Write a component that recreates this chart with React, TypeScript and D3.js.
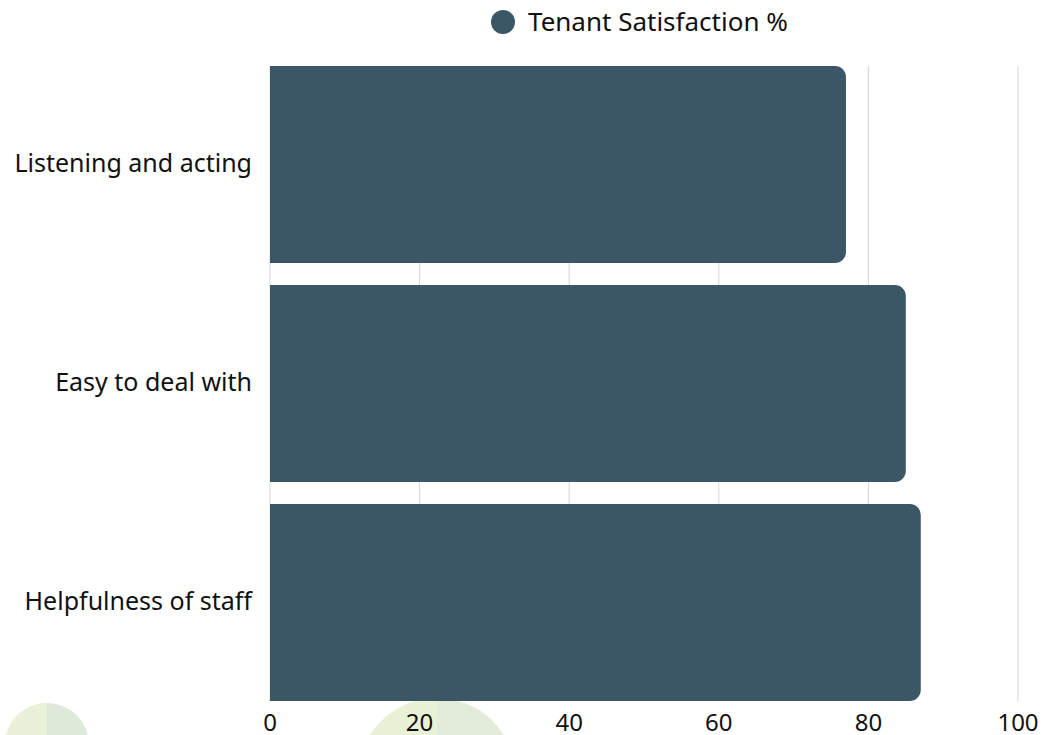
import React from "react";
import * as d3 from "d3";

const categories = ["Listening and acting", "Easy to deal with", "Helpfulness of staff"];
const satisfaction = [77, 85, 87];
const xTicks = [0, 20, 40, 60, 80, 100];
const seriesName = "Tenant Satisfaction %";

const W = 1046;
const H = 735;
const FONT = "'Noto Sans', sans-serif";
const BAR = "#3b5664";

function barPath(x0: number, x1: number, y0: number, h: number, r: number) {
  const rr = Math.min(r, (x1 - x0), h / 2);
  return `M${x0},${y0}H${x1 - rr}A${rr},${rr} 0 0 1 ${x1},${y0 + rr}V${y0 + h - rr}A${rr},${rr} 0 0 1 ${x1 - rr},${y0 + h}H${x0}Z`;
}

export default function App() {
  const x = d3.scaleLinear().domain([0, 100]).range([270, 1018]);
  const y = d3.scaleBand<string>().domain(categories).range([66, 701]).paddingInner(0.1).paddingOuter(0);

  return (
    <svg width={W} height={H} style={{ position: "absolute", left: 0, top: 0, display: "block" }}>
      <rect width={W} height={H} fill="#ffffff" />
      {/* faint decorative circles */}
      <circle cx={47} cy={745} r={42} fill="#dfe9d9" />
      <path d={`M47,703 A42,42 0 0 0 5,745 L47,745 Z`} fill="#ebf2d8" opacity={0.8} />
      <circle cx={437} cy={777} r={79} fill="#e2ecd9" />
      <path d={`M437,698 A79,79 0 0 0 358,777 L437,777 Z`} fill="#ebf2d6" opacity={0.8} />
      {/* gridlines */}
      {xTicks.map((t) => (
        <line key={t} x1={x(t)} x2={x(t)} y1={66} y2={701} stroke="#d6d6d6" strokeWidth={1} />
      ))}
      {/* bars */}
      {categories.map((c, i) => (
        <path key={c} d={barPath(x(0), x(satisfaction[i]), y(c)!, y.bandwidth(), 11)} fill={BAR} />
      ))}
      {/* category labels */}
      {categories.map((c) => (
        <text key={c} x={252} y={y(c)! + y.bandwidth() / 2} dy="0.3em" textAnchor="end"
          fontFamily={FONT} fontSize={25} fill="#111">{c}</text>
      ))}
      {/* x tick labels */}
      {xTicks.map((t) => (
        <text key={t} x={x(t)} y={731} textAnchor="middle" fontFamily={FONT} fontSize={24} fill="#111">{t}</text>
      ))}
      {/* legend */}
      <circle cx={503} cy={22} r={12} fill={BAR} />
      <text x={528} y={31} fontFamily={FONT} fontSize={26} fill="#111">{seriesName}</text>
    </svg>
  );
}
